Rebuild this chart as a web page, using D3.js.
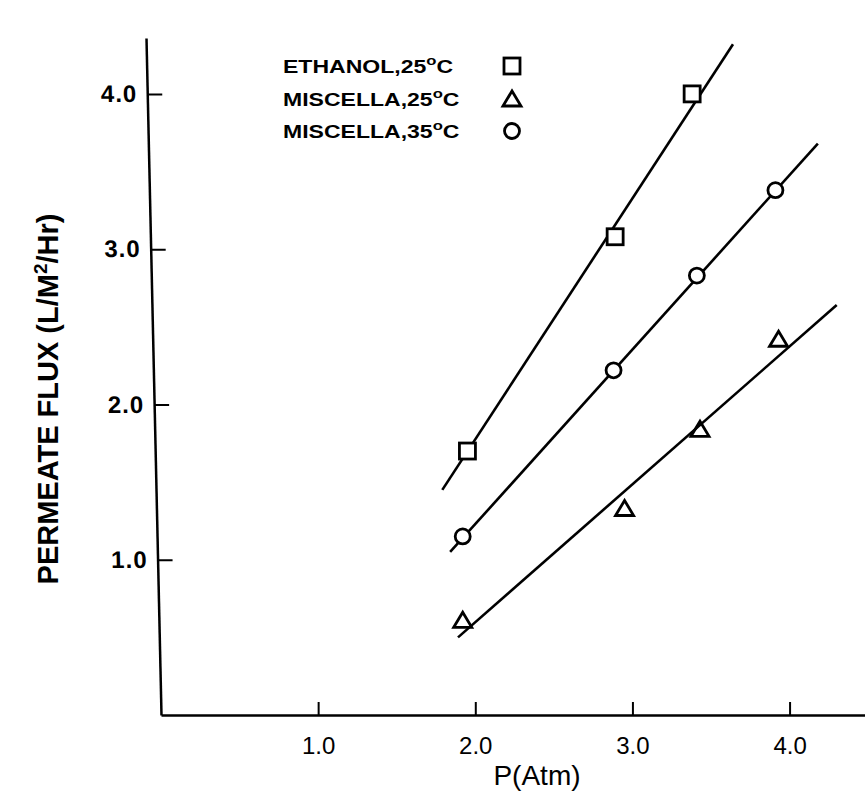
<!DOCTYPE html>
<html>
<head>
<meta charset="utf-8">
<script src="https://cdn.jsdelivr.net/npm/d3@7"></script>
<style>
  body { margin: 0; background: #fff; }
  text { font-family: "Liberation Sans", Arial, sans-serif; fill: #000; }
</style>
</head>
<body>
<div id="chart"></div>
<script>
// values
var ethanolP = [1.95, 2.89, 3.38];
var ethanolFlux = [1.70, 3.08, 4.00];
var misc25P = [1.92, 2.95, 3.43, 3.93];
var misc25Flux = [0.61, 1.33, 1.84, 2.42];
var misc35P = [1.92, 2.88, 3.41, 3.91];
var misc35Flux = [1.15, 2.22, 2.83, 3.38];

// fitted straight lines, [P, flux] at each end
var ethanolFit = [[1.79, 1.45], [3.64, 4.32]];
var misc25Fit = [[1.89, 0.50], [4.30, 2.64]];
var misc35Fit = [[1.84, 1.05], [4.18, 3.68]];

var xTicks = [1.0, 2.0, 3.0, 4.0];
var yTicks = [1.0, 2.0, 3.0, 4.0];
var legendNames = ["ETHANOL,25", "MISCELLA,25", "MISCELLA,35"];
var legendSymbols = ["square", "triangle", "circle"];

var svgWidth = 865;
var svgHeight = 793;

var svg = d3.select("#chart")
  .append("svg")
  .attr("width", svgWidth)
  .attr("height", svgHeight);

var x = d3.scaleLinear().domain([0, 4.48]).range([161, 865]);
var y = d3.scaleLinear().domain([0, 4.36]).range([715, 38]);

// axes
var xAxis = d3.axisBottom(x)
  .tickValues(xTicks)
  .tickFormat(d3.format(".1f"))
  .tickSize(-13)
  .tickSizeOuter(0)
  .tickPadding(22);

var yAxis = d3.axisLeft(y)
  .tickValues(yTicks)
  .tickFormat(d3.format(".1f"))
  .tickSize(-15)
  .tickSizeOuter(0)
  .tickPadding(10);

var gx = svg.append("g")
  .attr("transform", "translate(0,715)")
  .call(xAxis);
gx.selectAll("text")
  .style("font-size", "24px")
  .attr("dy", "0.71em");

// the scanned y axis leans a little to the left towards the top
var gy = svg.append("g")
  .attr("transform", "translate(161,715) skewX(1.27) translate(0,-715)")
  .call(yAxis);
gy.selectAll("text")
  .style("font-size", "24px")
  .style("font-weight", "bold")
  .style("letter-spacing", "1px");

svg.selectAll(".domain").attr("stroke-width", 2.5);
svg.selectAll(".tick line").attr("stroke-width", 2);

// axis titles
svg.append("text")
  .attr("x", 537)
  .attr("y", 785)
  .attr("text-anchor", "middle")
  .style("font-size", "28px")
  .text("P(Atm)");

var yTitle = svg.append("text")
  .attr("transform", "translate(58,399) rotate(-90)")
  .attr("text-anchor", "middle")
  .style("font-size", "29px")
  .style("font-weight", "bold");
yTitle.append("tspan").text("PERMEATE FLUX (L/M");
yTitle.append("tspan").attr("dy", -11).style("font-size", "19px").text("2");
yTitle.append("tspan").attr("dy", 11).text("/Hr)");

// fit lines
var line = d3.line().x(d => x(d[0])).y(d => y(d[1]));
[ethanolFit, misc25Fit, misc35Fit].forEach(function(f) {
  svg.append("path")
    .attr("d", line(f))
    .attr("fill", "none")
    .attr("stroke", "#000")
    .attr("stroke-width", 2.6);
});

// markers
function drawMarker(g, kind, cx, cy) {
  if (kind == "square") {
    g.append("rect")
      .attr("x", cx - 8).attr("y", cy - 8)
      .attr("width", 16).attr("height", 16)
      .attr("fill", "#fff").attr("stroke", "#000").attr("stroke-width", 2.8);
  } else if (kind == "circle") {
    g.append("circle")
      .attr("cx", cx).attr("cy", cy).attr("r", 7.5)
      .attr("fill", "#fff").attr("stroke", "#000").attr("stroke-width", 2.8);
  } else {
    g.append("path")
      .attr("d", `M${cx - 9},${cy + 7}L${cx},${cy - 8}L${cx + 9},${cy + 7}Z`)
      .attr("fill", "none").attr("stroke", "#000").attr("stroke-width", 2.8)
      .attr("stroke-linejoin", "miter");
  }
}

var series = [
  {p: ethanolP, f: ethanolFlux, kind: "square"},
  {p: misc25P, f: misc25Flux, kind: "triangle"},
  {p: misc35P, f: misc35Flux, kind: "circle"}
];
series.forEach(function(s) {
  s.p.forEach(function(p, i) {
    drawMarker(svg, s.kind, x(p), y(s.f[i]));
  });
});

// legend
var legendY = [66, 99, 131];
legendNames.forEach(function(name, i) {
  var t = svg.append("text")
    .attr("transform", `translate(283,${legendY[i] + 7}) scale(1.28,1)`)
    .style("font-size", "18px")
    .style("font-weight", "bold");
  t.append("tspan").text(name);
  t.append("tspan").attr("dy", -8).style("font-size", "13px").text("o");
  t.append("tspan").attr("dy", 8).text("C");
  drawMarker(svg, legendSymbols[i], 512, legendY[i]);
});
</script>
</body>
</html>
